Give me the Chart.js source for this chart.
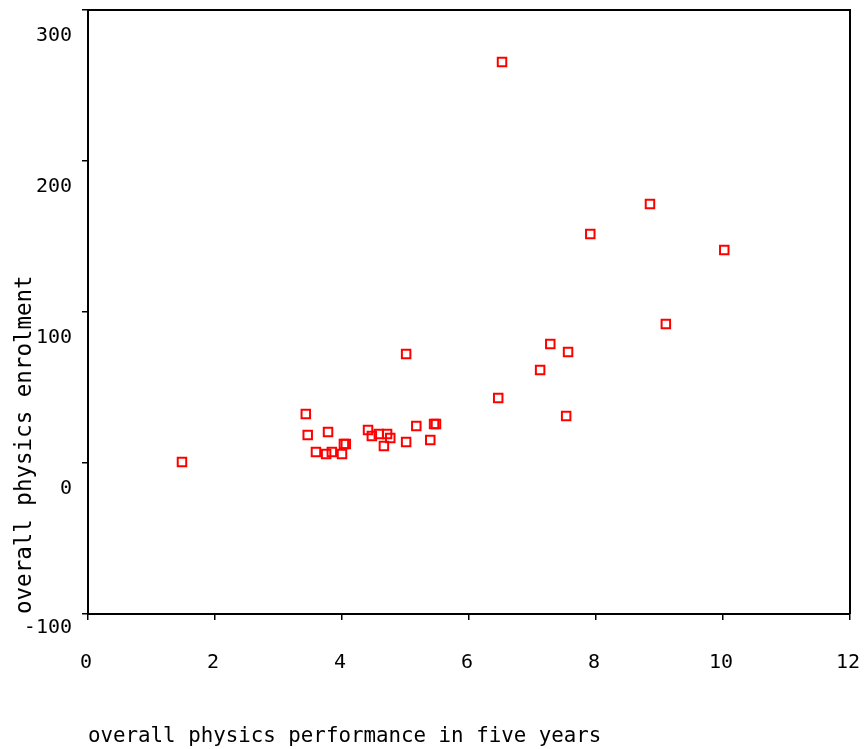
<!DOCTYPE html>
<html>
<head>
<meta charset="utf-8">
<script src="https://cdn.jsdelivr.net/npm/chart.js@4"></script>
<style>
  html, body { margin: 0; padding: 0; background: #fff; }
  #wrap { width: 865px; height: 749px; position: relative; }
</style>
</head>
<body>
<div id="wrap"><canvas id="c"></canvas></div>
<script>
const xValues = [1.48, 3.43, 3.46, 3.59, 3.78, 3.75, 3.84, 4.00, 4.03, 4.06, 4.41, 4.47, 4.58, 4.66, 4.71, 4.76,
                 5.01, 5.01, 5.17, 5.39, 5.45, 5.48, 6.46, 6.52, 7.12, 7.28, 7.53, 7.56, 7.91, 8.85, 9.10, 10.02];
const yValues = [0.7, 32.5, 18.5, 7.3, 20.5, 6.0, 7.3, 6.0, 12.6, 12.6, 21.9, 17.9, 19.2, 11.3, 19.2, 16.6,
                 72.2, 13.9, 24.5, 15.2, 25.8, 25.8, 43.0, 265.6, 61.6, 78.8, 31.1, 73.5, 151.7, 171.5, 92.1, 141.1];
const xTickValues = [0, 2, 4, 6, 8, 10, 12];
const yTickValues = [-100, 0, 100, 200, 300];
const xTitle = 'overall physics performance in five years';
const yTitle = 'overall physics enrolment';

const points = xValues.map((x, i) => ({ x: x, y: yValues[i] }));

const framePlugin = {
  id: 'frame',
  afterDatasetsDraw(chart) {
    const { ctx, chartArea: a } = chart;
    ctx.save();
    ctx.strokeStyle = '#000';
    ctx.lineWidth = 2;
    ctx.beginPath();
    ctx.moveTo(a.left, a.top);
    ctx.lineTo(a.right, a.top);
    ctx.lineTo(a.right, a.bottom);
    ctx.stroke();
    ctx.restore();
  }
};

new Chart(document.getElementById('c'), {
  type: 'scatter',
  data: {
    datasets: [{
      data: points,
      pointStyle: 'rect',
      pointRadius: 6,
      pointHoverRadius: 6,
      borderColor: '#ff0000',
      backgroundColor: 'rgba(0,0,0,0)',
      borderWidth: 2
    }]
  },
  options: {
    responsive: true,
    maintainAspectRatio: false,
    animation: false,
    events: [],
    layout: { padding: { top: 10, right: 15, left: 0, bottom: 0 } },
    plugins: { legend: { display: false }, tooltip: { enabled: false } },
    scales: {
      x: {
        type: 'linear',
        min: 0, max: 12,
        afterBuildTicks(scale) { scale.ticks = xTickValues.map(v => ({ value: v })); },
        afterFit(scale) { scale.height = 135; scale.paddingLeft = 0; scale.paddingRight = 0; },
        grid: { drawOnChartArea: false, drawTicks: true, tickLength: 6, color: '#000', lineWidth: 1.5 },
        border: { display: true, color: '#000', width: 2 },
        ticks: {
          autoSkip: false, maxRotation: 0, padding: 31, labelOffset: -2,
          color: '#000', font: { family: 'DejaVu Sans Mono', size: 20 }
        },
        title: {
          display: true, text: xTitle, align: 'start', color: '#000',
          font: { family: 'DejaVu Sans Mono', size: 20.8 }, padding: { top: 0, bottom: 0 }
        }
      },
      y: {
        type: 'linear',
        min: -100, max: 300,
        afterBuildTicks(scale) { scale.ticks = yTickValues.map(v => ({ value: v })); },
        afterFit(scale) { scale.width = 88; scale.paddingTop = 0; scale.paddingBottom = 0; },
        grid: { drawOnChartArea: false, drawTicks: true, tickLength: 6, color: '#000', lineWidth: 1.5 },
        border: { display: true, color: '#000', width: 2 },
        ticks: {
          autoSkip: false, padding: 10, labelOffset: 26,
          callback: (v) => (v === yTickValues[0] ? [String(v), ''] : String(v)),
          color: '#000', font: { family: 'DejaVu Sans Mono', size: 20 }
        },
        title: {
          display: true, text: yTitle, align: 'start', color: '#000',
          font: { family: 'DejaVu Sans Mono', size: 22.5 }, padding: { top: 12, bottom: 0 }
        }
      }
    }
  },
  plugins: [framePlugin]
});
</script>
</body>
</html>
